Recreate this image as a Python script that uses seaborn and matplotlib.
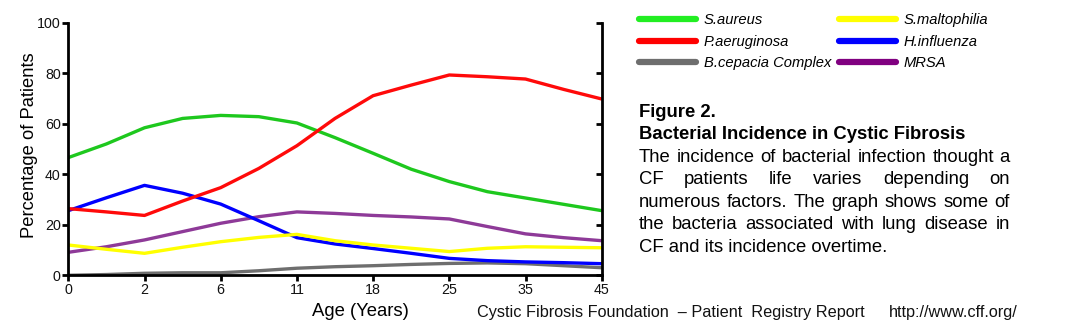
import numpy as np
import pandas as pd
import matplotlib
matplotlib.use("Agg")
import matplotlib.pyplot as plt
import seaborn as sns
from matplotlib.lines import Line2D
from matplotlib.font_manager import FontProperties

# ---------------- data ----------------
age_labels = ["0", "2", "6", "11", "18", "25", "35", "45"]
# sample positions along the (evenly spaced) age axis, in tick units
sample_pos = [0, 0.5, 1, 1.5, 2, 2.5, 3, 3.5, 4, 4.5, 5, 5.5, 6, 6.5, 7]

s_aureus      = [46.6, 52.0, 58.4, 62.1, 63.3, 62.8, 60.3, 54.5, 48.3, 42.0, 37.1, 33.1, 30.6, 28.1, 25.6]
p_aeruginosa  = [26.4, 25.1, 23.7, 29.4, 34.7, 42.3, 51.3, 62.1, 71.1, 75.3, 79.3, 78.6, 77.7, 73.6, 69.8]
b_cepacia     = [0.0, 0.3, 0.8, 1.0, 1.0, 1.8, 2.8, 3.4, 3.8, 4.3, 4.7, 4.9, 4.6, 3.8, 3.0]
s_maltophilia = [12.0, 10.3, 8.7, 11.1, 13.3, 15.0, 16.2, 13.7, 12.0, 10.7, 9.4, 10.7, 11.3, 11.1, 10.9]
h_influenza   = [25.6, 30.7, 35.6, 32.5, 28.2, 21.6, 14.9, 12.4, 10.6, 8.7, 6.7, 5.8, 5.3, 5.0, 4.6]
mrsa          = [9.1, 11.3, 14.0, 17.3, 20.6, 23.2, 25.1, 24.5, 23.7, 23.1, 22.3, 19.3, 16.4, 14.9, 13.7]

organisms = ["S.aureus", "P.aeruginosa", "B.cepacia Complex",
             "S.maltophilia", "H.influenza", "MRSA"]
series = [s_aureus, p_aeruginosa, b_cepacia, s_maltophilia, h_influenza, mrsa]

y_ticks = [0, 20, 40, 60, 80, 100]

caption_lines = [
    "The incidence of bacterial infection thought a",
    "CF patients life varies depending on",
    "numerous factors. The graph shows some of",
    "the bacteria associated with lung disease in",
    "CF and its incidence overtime.",
]

# ---------------- styling ----------------
line_colors = {
    "S.aureus": "#1ec81e",
    "P.aeruginosa": "#ff0a0a",
    "B.cepacia Complex": "#6e6e6e",
    "S.maltophilia": "#ffff00",
    "H.influenza": "#0000ff",
    "MRSA": "#8e3a98",
}
legend_colors = {
    "S.aureus": "#22ee22",
    "P.aeruginosa": "#ff0000",
    "B.cepacia Complex": "#6e6e6e",
    "S.maltophilia": "#ffff00",
    "H.influenza": "#0000ff",
    "MRSA": "#800080",
}
draw_order = ["B.cepacia Complex", "MRSA", "H.influenza", "S.maltophilia", "S.aureus", "P.aeruginosa"]

sns.set_theme(style="ticks")
plt.rcParams["font.family"] = ["Liberation Sans", "DejaVu Sans"]
plt.rcParams["text.color"] = "black"
plt.rcParams["axes.labelcolor"] = "black"
plt.rcParams["xtick.color"] = "black"
plt.rcParams["ytick.color"] = "black"

W, H = 1075, 334
fig = plt.figure(figsize=(W / 100, H / 100), dpi=100)
fig.patch.set_facecolor("white")

ax_l, ax_r, ax_t, ax_b = 68.3, 601.7, 22.7, 275.3
ax = fig.add_axes([ax_l / W, 1 - ax_b / H, (ax_r - ax_l) / W, (ax_b - ax_t) / H])
ax.set_facecolor("white")

df = pd.DataFrame({
    "pos": np.tile(sample_pos, len(organisms)),
    "pct": np.concatenate(series),
    "organism": np.repeat(organisms, len(sample_pos)),
})

sns.lineplot(data=df, x="pos", y="pct", hue="organism", hue_order=draw_order,
             palette=line_colors, linewidth=2.4, legend=False, estimator=None,
             ax=ax)

ax.set_xlim(0, len(age_labels) - 1)
ax.set_ylim(0, 100)
ax.set_xticks(range(len(age_labels)))
ax.set_xticklabels(age_labels)
ax.set_yticks(y_ticks)

for side in ["left", "bottom", "right"]:
    ax.spines[side].set_visible(True)
    ax.spines[side].set_linewidth(2.0)
    ax.spines[side].set_color("black")
ax.spines["top"].set_visible(False)
ax.tick_params(axis="both", direction="out", length=4, width=2, color="black",
               labelsize=10.3, labelcolor="#111111", pad=1.5)

# inward ticks on the right spine
ax2 = ax.twinx()
ax2.set_ylim(0, 100)
ax2.set_yticks(y_ticks)
ax2.tick_params(axis="y", direction="in", length=4, width=2, color="black",
                labelright=False)
for sp in ax2.spines.values():
    sp.set_visible(False)

ax.set_xlabel("Age (Years)", fontsize=13.3, color="black")
ax.set_ylabel("Percentage of Patients", fontsize=13.2, color="black")
ax.xaxis.set_label_coords((360.7 - ax_l) / (ax_r - ax_l), (ax_b - 303.5) / (ax_b - ax_t))
ax.yaxis.set_label_coords((38.5 - ax_l) / (ax_r - ax_l), (ax_b - 145) / (ax_b - ax_t))

# legend
handles = [Line2D([0], [0], color=legend_colors[o], lw=4.5, solid_capstyle="round")
           for o in organisms]
fig.legend(handles, organisms, ncol=2, loc="upper left",
           bbox_to_anchor=(639 / W, 1 - 13 / H), frameon=False,
           borderpad=0, borderaxespad=0, handlelength=3.9, handletextpad=0.5,
           labelspacing=0.52, columnspacing=0.5,
           prop=FontProperties(family="Liberation Sans", style="italic", size=10.6))

# caption text
x0, x1 = 639.0, 1010.0
fig.text(x0 / W, 1 - 116.7 / H, "Figure 2.", fontsize=13.3, fontweight="bold",
         ha="left", va="baseline")
fig.text(x0 / W, 1 - 139.3 / H, "Bacterial Incidence in Cystic Fibrosis", fontsize=13.3,
         fontweight="bold", ha="left", va="baseline")

body_fp = FontProperties(family="Liberation Sans", size=13.3)
renderer = fig.canvas.get_renderer()
baselines = [161.7, 184.3, 206.8, 229.3, 251.8]
for i, (line, yb) in enumerate(zip(caption_lines, baselines)):
    words = line.split()
    if i == len(caption_lines) - 1:
        fig.text(x0 / W, 1 - yb / H, line, fontproperties=body_fp, ha="left", va="baseline")
        continue
    widths = [renderer.get_text_width_height_descent(w, body_fp, ismath=False)[0] for w in words]
    gap = (x1 - x0 - sum(widths)) / (len(words) - 1)
    x = x0
    for w, wd in zip(words, widths):
        fig.text(x / W, 1 - yb / H, w, fontproperties=body_fp, ha="left", va="baseline")
        x += wd + gap

# footer
fig.text(477.3 / W, 1 - 316.7 / H, "Cystic Fibrosis Foundation  \u2013 Patient  Registry Report",
         fontsize=11.7, ha="left", va="baseline", color="#111111")
fig.text(889 / W, 1 - 316.7 / H, "http://www.cff.org/",
         fontsize=11.7, ha="left", va="baseline", color="#111111")

fig.savefig("out.png", dpi=100, facecolor="white")
